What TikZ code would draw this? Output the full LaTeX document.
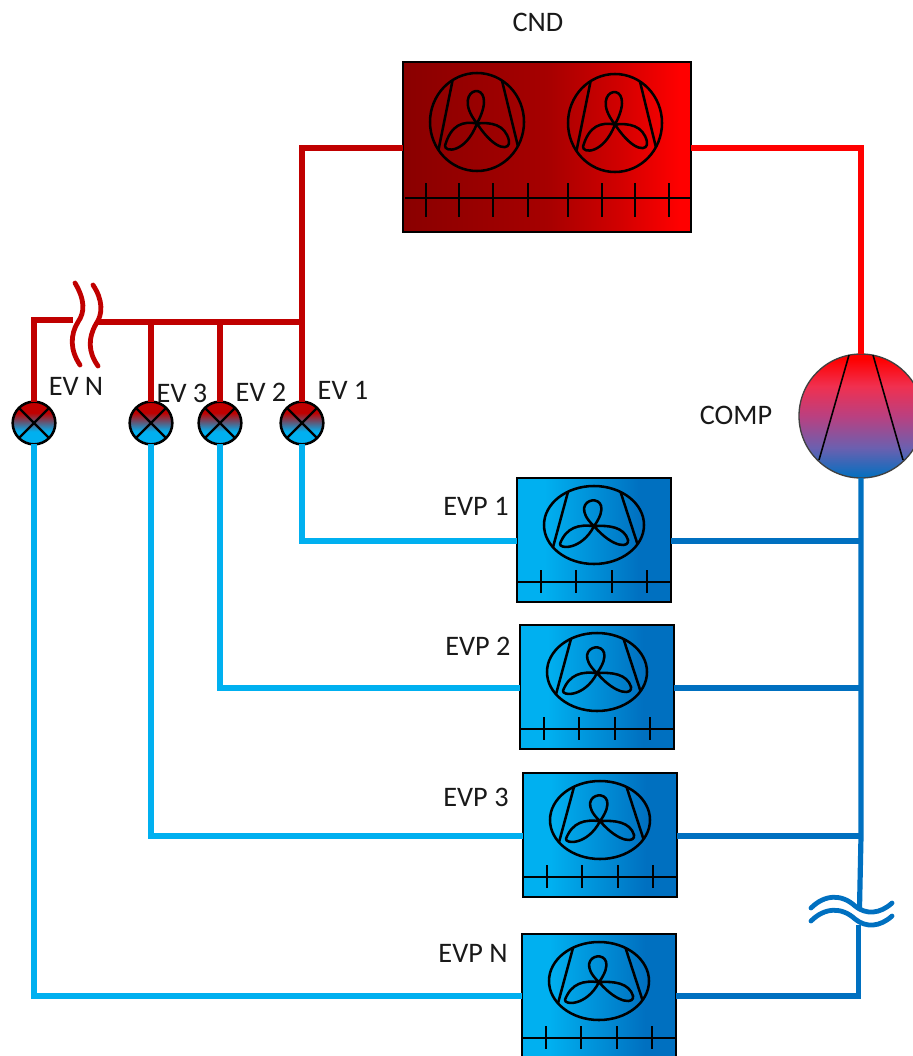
\documentclass[tikz,border=0pt]{standalone}
\usepackage{fontspec}
\setmainfont{Carlito}
\definecolor{hotline}{HTML}{FF0000}
\definecolor{liqline}{HTML}{C00000}
\definecolor{coldline}{HTML}{00B0F0}
\definecolor{gasline}{HTML}{0070C0}
\definecolor{cndA}{HTML}{8A0000}
\definecolor{cndB}{HTML}{A60000}
\definecolor{cndC}{HTML}{CF0000}
\definecolor{compA}{HTML}{F03050}
\definecolor{compB}{HTML}{BA4080}
\definecolor{compC}{HTML}{6A60B0}
\pgfdeclarehorizontalshading{cndfill}{100bp}{color(0bp)=(cndA);color(25bp)=(cndA);color(50bp)=(cndB);color(62bp)=(cndC);color(73bp)=(hotline);color(100bp)=(hotline)}
\pgfdeclarehorizontalshading{evpfill}{100bp}{color(0bp)=(coldline);color(34bp)=(coldline);color(65bp)=(gasline);color(100bp)=(gasline)}
\pgfdeclareverticalshading{valvefill}{100bp}{color(0bp)=(coldline);color(40bp)=(coldline);color(62bp)=(liqline);color(100bp)=(liqline)}
\pgfdeclareverticalshading{compfill}{100bp}{color(0bp)=(gasline);color(25bp)=(gasline);color(37bp)=(compC);color(50bp)=(compB);color(62bp)=(compA);color(73bp)=(hotline);color(100bp)=(hotline)}
\tikzset{
  cndbox/.style={rectangle,draw=black,line width=1.9pt,shading=cndfill,inner sep=0,outer sep=0,anchor=north west,minimum width=216pt,minimum height=127.5pt},
  evpbox/.style={rectangle,draw=black,line width=1.9pt,shading=evpfill,inner sep=0,outer sep=0,anchor=north west,minimum width=115.5pt,minimum height=93pt},
  valve/.style={circle,draw=black,line width=1.9pt,shading=valvefill,inner sep=0,outer sep=0,minimum size=32pt},
  compnode/.style={circle,draw=black!75,line width=1pt,shading=compfill,inner sep=0,outer sep=0,minimum size=93pt},
  pipe/.style={line width=3.9pt,line join=miter},
  breakmark/.style={line width=3.6pt,line cap=round},
  ink/.style={line width=1.9pt,draw=black},
  fin/.style={line width=2.2pt,draw=black},
  lbl/.style={inner sep=0,font=\fontsize{21.2}{25}\selectfont,text=black!90},
  down/.style={yshift=-0.75pt}
}
\newcommand{\fanat}[4]{%
  \begin{scope}[shift={(#1,#2)},xscale=#3,yscale=#4]
    \draw[ink] (0,0) circle (1);
    \draw[ink] (-.52,-.85) -- (-.82,.57) (.53,-.85) -- (.87,.49);
    \draw[ink,line join=round] (0,.03) .. controls (-.65,-.75) and (.55,-.95) .. (0,.03)
      .. controls (-.3,-.02) and (-.55,.05) .. (-.68,.48)
      .. controls (-.7,.62) and (-.25,.65) .. (0,.03)
      .. controls (.3,0) and (.6,.05) .. (.68,.38)
      .. controls (.72,.58) and (.4,.62) .. (0,.03);
  \end{scope}}
\newcommand{\evpfins}[2]{%
  \begin{scope}[shift={(#1,#2)}]
    \draw[fin] (1,104) -- (153,104);
    \foreach \tx in {24,59,95,130} \draw[fin] (\tx,92) -- (\tx,115);
    \fanat{77}{47}{50}{39}
  \end{scope}}
\newcommand{\valvecross}[1]{%
  \draw[line width=1.7pt] (#1.north west) -- (#1.south east) (#1.north east) -- (#1.south west);}
\begin{document}
\begin{tikzpicture}[x=0.75pt,y=-0.75pt]
\useasboundingbox (0,0) rectangle (913,1056);
\clip (0,0) rectangle (913,1056);
% equipment
\node[cndbox] (cnd) at (403,62) {};
\node[compnode] (comp) at (861,416) {};
\node[evpbox] (evp1) at (517,478) {};
\node[evpbox] (evp2) at (520,625) {};
\node[evpbox] (evp3) at (523,773) {};
\node[evpbox,minimum height=94.5pt] (evpn) at (522,934) {};
\node[valve] (evn) at (34,423) {};
\node[valve] (ev3) at (151,423) {};
\node[valve] (ev2) at (220,423) {};
\node[valve] (ev1) at (302,423) {};
% free junction points
\coordinate (busright) at (97,322);
\coordinate (busleft) at (73,320);
\coordinate (gasa) at (859.5,908);
\coordinate (gasb) at (858.5,925);
\coordinate (gasend) at (858.5,996);
\coordinate (gasmid) at ([down]evp3.east -| comp.south);
% hot gas and liquid pipes
\draw[pipe,hotline] ([down]cnd.east) -| (comp.north);
\draw[pipe,liqline] ([down]cnd.west) -| (ev1.north);
\draw[pipe,liqline] (busright) -- (busright -| ev1.north);
\draw[pipe,liqline] (busright -| ev2.north) -- (ev2.north);
\draw[pipe,liqline] (busright -| ev3.north) -- (ev3.north);
\draw[pipe,liqline] (busleft) -| (evn.north);
% expansion side
\draw[pipe,coldline] (ev1.south) |- ([down]evp1.west);
\draw[pipe,coldline] (ev2.south) |- ([down]evp2.west);
\draw[pipe,coldline] (ev3.south) |- ([down]evp3.west);
\draw[pipe,coldline] (evn.south) |- (evpn.west |- gasend);
% suction side
\draw[pipe,gasline] (comp.south) -- (gasmid) -- (gasa);
\draw[pipe,gasline] (gasb) -- (gasend) -- (evpn.east |- gasend);
\draw[pipe,gasline] ([down]evp1.east) -- ([down]evp1.east -| comp.south);
\draw[pipe,gasline] ([down]evp2.east) -- ([down]evp2.east -| comp.south);
\draw[pipe,gasline] ([down]evp3.east) -- (gasmid);
% break marks
\draw[breakmark,liqline] (75,283) .. controls (85,300) and (85,312) .. (78,322) .. controls (70,335) and (70,350) .. (80,365);
\draw[breakmark,liqline] (93,285) .. controls (103,300) and (103,314) .. (96,324) .. controls (88,338) and (88,352) .. (98,366);
\draw[breakmark,gasline] (811,908) .. controls (825,894) and (842,894) .. (855,906) .. controls (866,915) and (880,914) .. (892,903);
\draw[breakmark,gasline] (811,921) .. controls (825,907) and (842,907) .. (855,919) .. controls (866,928) and (880,927) .. (892,916);
% condenser details
\fanat{477}{122}{47}{49}
\fanat{615}{123}{47}{49}
\draw[fin] (405,198) -- (690,198);
\foreach \tx in {426,459,493,528,568,602,635,669} \draw[fin] (\tx,183) -- (\tx,217);
% evaporator details
\evpfins{517}{478}
\evpfins{520}{625}
\evpfins{523}{773}
\evpfins{522}{934}
% valve crosses
\valvecross{evn}
\valvecross{ev3}
\valvecross{ev2}
\valvecross{ev1}
% compressor lines
\draw[line width=1.2pt] (849,355) -- (819,460) (873,355) -- (903,460);
% labels
\node[lbl] (tcnd) at (538,22) {CND};
\node[lbl] (tcomp) at (736,415) {COMP};
\node[lbl] (tevn) at (76,386) {EV N};
\node[lbl] (tev3) at (182,393) {EV 3};
\node[lbl] (tev2) at (261,392) {EV 2};
\node[lbl] (tev1) at (343,390) {EV 1};
\node[lbl] (tevp1) at (476,506) {EVP 1};
\node[lbl] (tevp2) at (478,646) {EVP 2};
\node[lbl] (tevp3) at (476,797) {EVP 3};
\node[lbl] (tevpn) at (473,953) {EVP N};
\end{tikzpicture}
\end{document}
